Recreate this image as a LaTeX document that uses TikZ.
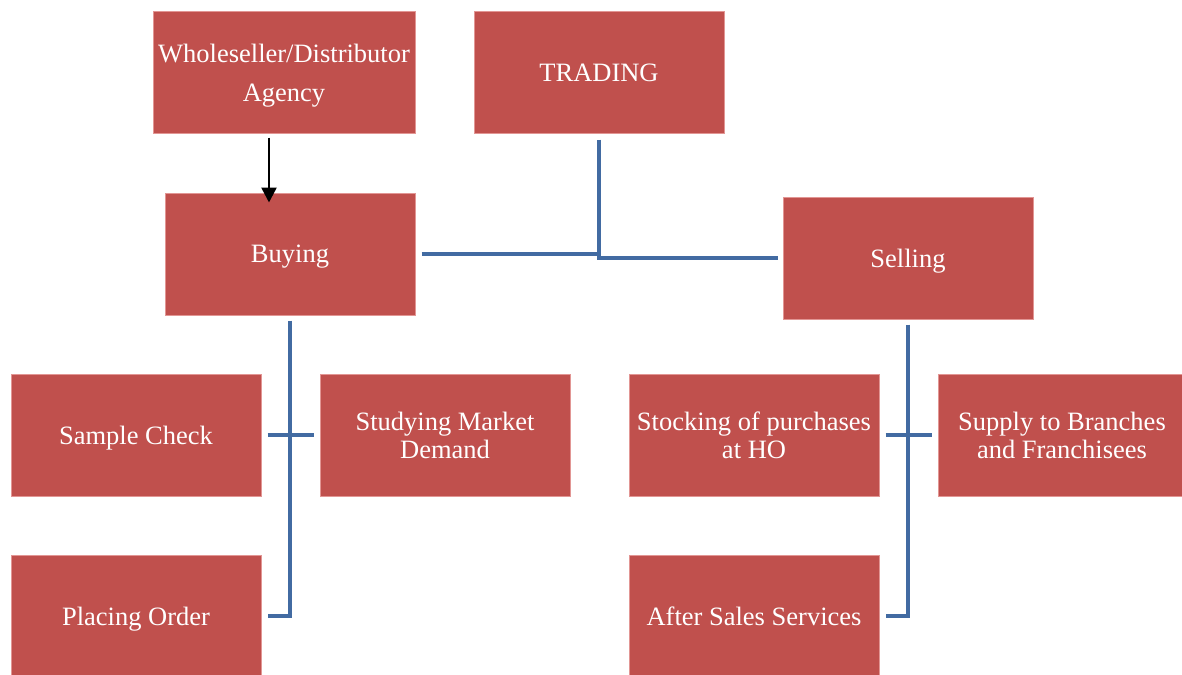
\documentclass[tikz,border=0pt]{standalone}
\usepackage{fontspec}
\setmainfont{Liberation Serif}
\usetikzlibrary{arrows.meta}
\definecolor{boxred}{RGB}{192,80,77}
\definecolor{boxedge}{RGB}{226,150,148}
\definecolor{linkblue}{RGB}{66,107,162}
\tikzset{
  box/.style={fill=boxred, draw=boxedge, line width=1pt, text=white, align=center,
    minimum width=250pt, minimum height=122pt, inner sep=0pt,
    font=\fontsize{26.5}{28}\selectfont},
  flat/.style={text depth=0pt},
  link/.style={draw=linkblue, line width=4pt},
  feed/.style={draw=black, line width=2.5pt, -{Triangle[length=15pt,width=15pt]}}
}
\begin{document}
\begin{tikzpicture}[x=1pt,y=-1pt]
\useasboundingbox (0,0) rectangle (1182,674);
\node[box, flat, minimum width=262pt, minimum height=121pt] (whole) at (284,72.5) {Wholeseller/Distributor\\[11pt]Agency};
\node[box, minimum height=121pt] (trading) at (599,72.5) {TRADING};
\node[box, flat] (buying) at (290,254) {Buying};
\node[box, flat] (selling) at (908,258) {Selling};
\node[box, flat] (sample) at (136,435) {Sample Check};
\node[box] (study) at (445,435) {Studying Market\\Demand};
\node[box, flat] (placing) at (136,616) {Placing Order};
\node[box] (stock) at (754,435) {Stocking of purchases\\at HO};
\node[box, minimum width=248pt] (supply) at (1062,435) {Supply to Branches\\and Franchisees};
\node[box] (after) at (754,616) {After Sales Services};

\draw[feed] ([xshift=-15pt,yshift=-4pt]whole.south) -- ([xshift=-21pt,yshift=-10pt]buying.north);

\draw[link] ([xshift=6pt]buying.east) -| ([yshift=-6pt]trading.south);
\draw[link] ([yshift=-6pt]trading.south) |- ([xshift=-5pt]selling.west);

\draw[link] ([yshift=-5pt]buying.south) |- ([xshift=6pt]placing.east);
\draw[link] ([xshift=6pt]sample.east) -- ([xshift=-6pt]study.west);

\draw[link] ([yshift=-5pt]selling.south) |- ([xshift=6pt]after.east);
\draw[link] ([xshift=6pt]stock.east) -- ([xshift=-6pt]supply.west);
\end{tikzpicture}
\end{document}
